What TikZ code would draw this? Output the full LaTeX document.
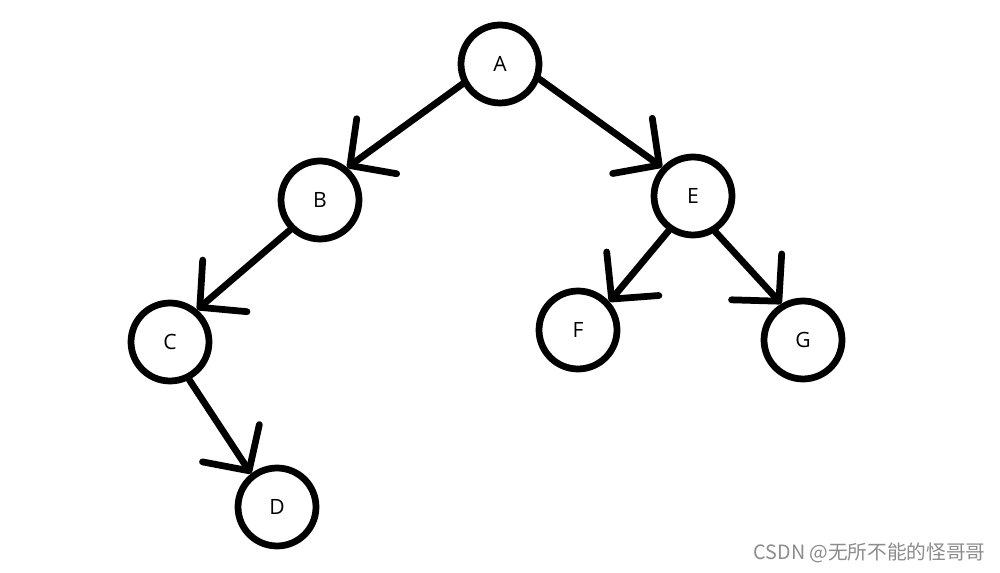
\documentclass[tikz,border=0pt]{standalone}
\usepackage{fontspec}
\setmainfont{Open Sans}
\newfontfamily\cjkfont{Noto Sans CJK SC}
\usetikzlibrary{arrows.meta}
\begin{document}
\begin{tikzpicture}[x=0.02cm,y=-0.02cm,
  treenode/.style={circle,draw=black,line width=0.135cm,minimum size=1.56cm,inner sep=0pt,font=\fontsize{12}{14}\selectfont},
  treeedge/.style={line width=0.135cm,line cap=round,-{Straight Barb[round,length=0.66cm,width=1.36cm]}}]
\useasboundingbox (0,0) rectangle (1000,573);
\fill[white] (0,0) rectangle (1000,573);
\node[treenode] (A) at (500,64) {A};
\node[treenode] (B) at (320,200) {B};
\node[treenode] (E) at (693,196) {E};
\node[treenode] (C) at (170,342) {C};
\node[treenode] (F) at (578,330) {F};
\node[treenode] (G) at (803,340) {G};
\node[treenode] (D) at (277,507) {D};
\draw[treeedge] (A.208) -- (B.50);
\draw[treeedge] (A.339) -- (E.137);
\draw[treeedge] (B.225) -- (C.50);
\draw[treeedge] (E.235) -- (F.42);
\draw[treeedge] (E.302) -- (G.121);
\draw[treeedge] (C.297) -- (D.128);
\node[anchor=east,text=black!45,font=\cjkfont\fontsize{11.2}{13}\selectfont,inner sep=0pt] (wm) at (986,553) {CSDN @无所不能的怪哥哥};
\end{tikzpicture}
\end{document}
